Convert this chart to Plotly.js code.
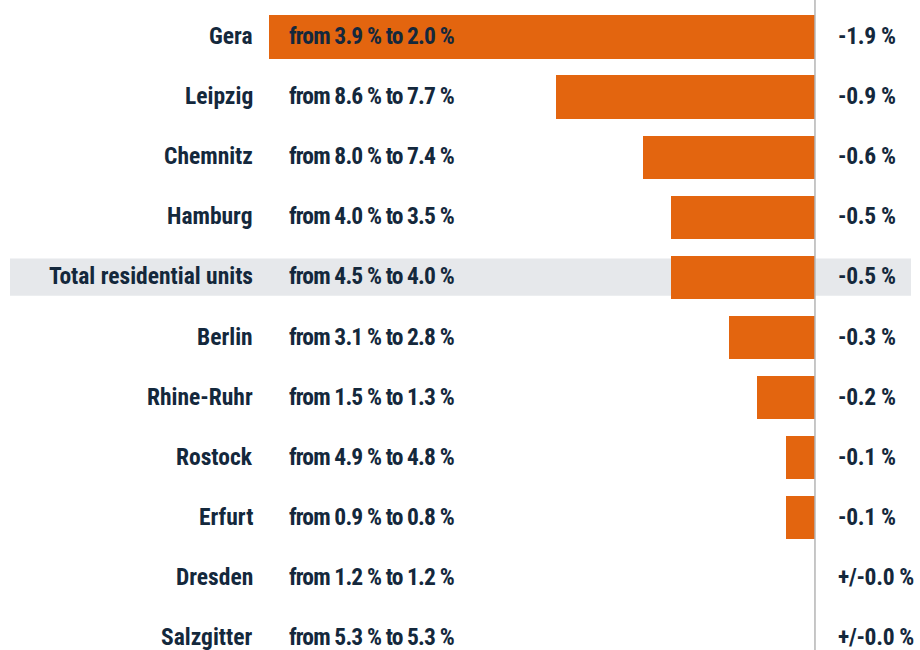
<!DOCTYPE html>
<html>
<head>
<meta charset="utf-8">
<script src="https://cdn.plot.ly/plotly-3.0.1.min.js"></script>
<style>
html,body{margin:0;padding:0;background:#fff;}
#chart{width:920px;height:650px;}
</style>
</head>
<body>
<div id="chart"></div>
<script>
const cities = ["Gera","Leipzig","Chemnitz","Hamburg","Total residential units","Berlin","Rhine-Ruhr","Rostock","Erfurt","Dresden","Salzgitter"];
const fromVals = ["3.9","8.6","8.0","4.0","4.5","3.1","1.5","4.9","0.9","1.2","5.3"];
const toVals = ["2.0","7.7","7.4","3.5","4.0","2.8","1.3","4.8","0.8","1.2","5.3"];
const changes = [-1.9,-0.9,-0.6,-0.5,-0.5,-0.3,-0.2,-0.1,-0.1,0.0,0.0];
const highlight = "Total residential units";

const FONT = "Liberation Sans Narrow, Arial Narrow, Roboto Condensed, Roboto, sans-serif";
const NAVY = "#14283c";
const ORANGE = "#e3650f";
const SIZE = 23.5;

const idx = cities.map((c,i)=>i);

const trace = {
  type: "bar",
  orientation: "h",
  x: changes,
  y: idx,
  base: 0,
  width: 0.72,
  marker: {color: ORANGE, line: {width: 0}},
  hoverinfo: "skip"
};

const annotations = [];
cities.forEach((c,i)=>{
  annotations.push({
    xref: "paper", yref: "y", x: 255/920, y: i, text: "<b>"+c+"</b>",
    showarrow: false, xanchor: "right", yanchor: "middle", yshift: 1,
    font: {family: FONT, size: SIZE, color: NAVY}
  });
  annotations.push({
    xref: "paper", yref: "y", x: 287/920, y: i,
    text: "<b><span style=\"letter-spacing:-0.85px\">from " + fromVals[i] + " % to " + toVals[i] + " %</span></b>",
    showarrow: false, xanchor: "left", yanchor: "middle", yshift: 1,
    font: {family: FONT, size: SIZE, color: NAVY}
  });
  const v = changes[i];
  const lab = v === 0 ? "+/-0.0 %" : (v.toFixed(1) + " %");
  annotations.push({
    xref: "paper", yref: "y", x: 836/920, y: i,
    text: "<b><span style=\"letter-spacing:-0.3px\">" + lab + "</span></b>",
    showarrow: false, xanchor: "left", yanchor: "middle", yshift: 1,
    font: {family: FONT, size: SIZE, color: NAVY}
  });
});

const hi = cities.indexOf(highlight);
const shapes = [
  {type: "rect", layer: "below", xref: "paper", yref: "y",
   x0: 10/920, x1: 911/920, y0: hi - 0.315, y1: hi + 0.305,
   fillcolor: "#e6e8eb", line: {width: 0}},
  {type: "line", layer: "above", xref: "x", yref: "paper",
   x0: 0, x1: 0, y0: 0, y1: 1,
   line: {color: "#b4b4b4", width: 1.5}}
];

const layout = {
  width: 920, height: 650,
  margin: {l: 0, r: 0, t: 0, b: 0},
  paper_bgcolor: "#ffffff", plot_bgcolor: "rgba(0,0,0,0)",
  showlegend: false,
  xaxis: {range: [-2.836, 0.3655], visible: false, fixedrange: true},
  yaxis: {range: [10.2, -0.616], visible: false, fixedrange: true},
  annotations: annotations,
  shapes: shapes,
  bargap: 0
};

Plotly.newPlot("chart", [trace], layout, {displayModeBar: false, staticPlot: true});
</script>
</body>
</html>
